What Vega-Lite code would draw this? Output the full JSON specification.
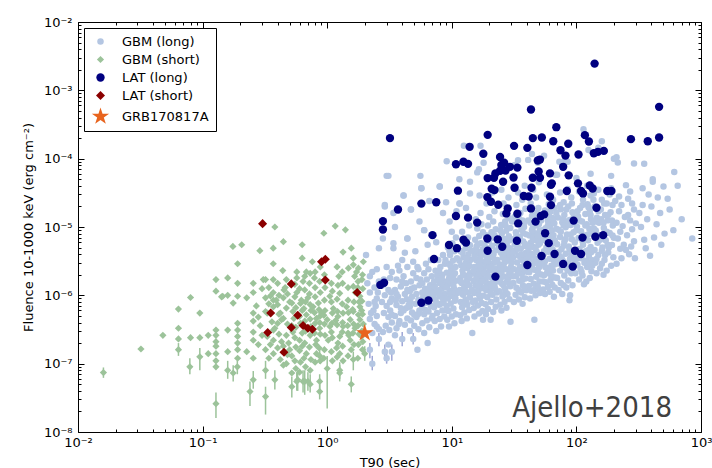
{
"$schema":"https://vega.github.io/schema/vega-lite/v6.json",
"width":623,"height":410,
"autosize":{"type":"none"},
"padding":{"left":78,"top":22,"right":11,"bottom":36},
"background":"white",
"config":{"view":{"stroke":null},
"axis":{"domainColor":"black","domainWidth":1,"tickColor":"black","tickWidth":1,"labelColor":"black","labelFont":"DejaVu Sans","labelFontSize":13,"grid":false,"labelOverlap":false,"labelFlush":false,"titleFont":"DejaVu Sans","titleFontSize":13,"titleFontWeight":"normal","titleColor":"black"},
"legend":{"strokeColor":"black","fillColor":"white","padding":7,"labelFont":"DejaVu Sans","labelFontSize":13,"labelColor":"black","labelOffset":12,"rowPadding":4,"symbolStrokeWidth":0,"cornerRadius":0,"orient":"top-left","offset":6}},
"datasets":{
"gl":[
{"x":2.1,"y":1.5e-6},{"x":2.2,"y":1.9e-6},{"x":2.3,"y":2.2e-6},{"x":2.05,"y":3.9e-6},{"x":2.6,"y":4.9e-6},{"x":2.2,"y":1.1e-6},{"x":2.4,"y":1.3e-6},{"x":2.5,"y":9e-7},{"x":2.15,"y":7.5e-7},{"x":2.35,"y":6e-7},{"x":2.5,"y":5e-7},{"x":2.2,"y":4.5e-7},{"x":2.4,"y":3.8e-7},{"x":2.6,"y":3.2e-7},{"x":2.3,"y":2.8e-7},{"x":2.2,"y":1.6e-7,"lo":1.2e-7,"hi":2e-7},{"x":2.3,"y":1e-7,"lo":8e-8,"hi":1.3e-7},{"x":2.45,"y":7e-7},{"x":2.55,"y":1.1e-6},{"x":2.6,"y":1.6e-6},{"x":2.5,"y":2.4e-6},{"x":2.4,"y":8e-7},{"x":2.25,"y":5.5e-7},{"x":2.5,"y":3.5e-7},{"x":2.6,"y":2.3e-7,"lo":1.8e-7,"hi":2.8e-7},
{"x":2.8,"y":6.8e-6},{"x":2.9,"y":2.1e-5},{"x":3.0,"y":5.6e-5},{"x":3.0,"y":2.6e-6},{"x":3.2,"y":1.8e-6},{"x":2.8,"y":1.4e-6},{"x":3.1,"y":1.2e-6},{"x":2.9,"y":1e-6},{"x":3.3,"y":9e-7},{"x":2.75,"y":8e-7},{"x":3.0,"y":7e-7},{"x":3.2,"y":6e-7},{"x":2.85,"y":5.5e-7},{"x":3.1,"y":4.8e-7},{"x":3.3,"y":4e-7},{"x":2.95,"y":3.6e-7},{"x":3.15,"y":3.1e-7},{"x":2.8,"y":2.9e-7},{"x":3.1,"y":1.9e-7},{"x":3.0,"y":1.2e-7,"lo":1e-7,"hi":1.6e-7},{"x":2.9,"y":1.5e-7,"lo":1.1e-7,"hi":1.9e-7},{"x":3.3,"y":1.5e-7,"lo":1.1e-7,"hi":1.9e-7},{"x":3.25,"y":1.1e-6},{"x":2.85,"y":1.7e-6},{"x":3.3,"y":2.2e-6},{"x":3.4,"y":5.8e-6},{"x":3.4,"y":1.6e-5},{"x":3.5,"y":1e-5},{"x":3.4,"y":4.9e-6},
{"x":3.5,"y":2.6e-7},{"x":4.0,"y":2.3e-7,"lo":1.8e-7,"hi":2.9e-7},{"x":3.6,"y":3.3e-7},{"x":3.8,"y":4.2e-7},{"x":4.2,"y":3.7e-7},{"x":3.5,"y":5e-7},{"x":3.9,"y":5.5e-7},{"x":4.3,"y":6.5e-7},{"x":3.6,"y":7.2e-7},{"x":4.0,"y":8.2e-7},{"x":3.7,"y":9.5e-7},{"x":4.2,"y":1.05e-6},{"x":3.5,"y":1.2e-6},{"x":3.9,"y":1.35e-6},{"x":4.3,"y":1.5e-6},{"x":3.6,"y":1.7e-6},{"x":4.1,"y":1.9e-6},{"x":3.8,"y":2.3e-6},{"x":4.0,"y":3.3e-6},{"x":4.4,"y":6.8e-6},{"x":4.1,"y":2.9e-5},{"x":4.7,"y":1.8e-5},{"x":3.7,"y":2.7e-6},{"x":4.4,"y":2.6e-6},{"x":4.2,"y":4.2e-6},{"x":3.55,"y":8.5e-7},{"x":4.35,"y":8.8e-7},{"x":4.1,"y":6e-7},{"x":3.75,"y":3.8e-7},{"x":4.4,"y":4.6e-7},
{"x":4.9,"y":2.3e-7,"lo":1.9e-7,"hi":2.8e-7},{"x":5.3,"y":1.6e-7},{"x":4.6,"y":3e-7},{"x":5.0,"y":3.6e-7},{"x":5.4,"y":3.2e-7},{"x":4.7,"y":4.3e-7},{"x":5.2,"y":4.8e-7},{"x":4.8,"y":5.6e-7},{"x":5.5,"y":6e-7},{"x":4.6,"y":6.8e-7},{"x":5.1,"y":7.5e-7},{"x":5.4,"y":8.6e-7},{"x":4.8,"y":9.5e-7},{"x":5.2,"y":1.05e-6},{"x":4.6,"y":1.15e-6},{"x":5.0,"y":1.3e-6},{"x":5.5,"y":1.4e-6},{"x":4.7,"y":1.6e-6},{"x":5.2,"y":1.8e-6},{"x":4.9,"y":2.1e-6},{"x":5.4,"y":2.4e-6},{"x":4.9,"y":3.1e-6},{"x":5.1,"y":4.4e-6},{"x":5.5,"y":1.2e-5},{"x":5.6,"y":5.6e-5},{"x":5.7,"y":3.7e-5},{"x":5.3,"y":2.6e-6},{"x":4.75,"y":1.25e-6},{"x":5.35,"y":5.3e-7},{"x":4.65,"y":8e-7},
{"x":6.4,"y":2e-7},{"x":6.0,"y":2.8e-7},{"x":6.6,"y":3.4e-7},{"x":5.8,"y":3.9e-7},{"x":6.3,"y":4.3e-7},{"x":6.9,"y":4.6e-7},{"x":6.0,"y":5.3e-7},{"x":6.5,"y":5.8e-7},{"x":5.8,"y":6.5e-7},{"x":6.8,"y":7e-7},{"x":6.2,"y":7.8e-7},{"x":6.6,"y":8.7e-7},{"x":5.9,"y":9.5e-7},{"x":6.4,"y":1.05e-6},{"x":6.9,"y":1.15e-6},{"x":6.1,"y":1.25e-6},{"x":6.7,"y":1.4e-6},{"x":5.8,"y":1.5e-6},{"x":6.3,"y":1.7e-6},{"x":6.9,"y":1.9e-6},{"x":6.0,"y":2.1e-6},{"x":6.5,"y":2.4e-6},{"x":6.2,"y":2.9e-6},{"x":6.8,"y":3.3e-6},{"x":6.0,"y":9e-6},{"x":6.6,"y":2.4e-5},{"x":6.4,"y":5.5e-6},{"x":7.0,"y":1.35e-6},{"x":6.15,"y":6.1e-7},{"x":6.75,"y":1e-6},
{"x":7.5,"y":3e-7},{"x":8.2,"y":3.5e-7},{"x":7.3,"y":4.2e-7},{"x":8.0,"y":4.5e-7},{"x":8.7,"y":4.9e-7},{"x":7.6,"y":5.5e-7},{"x":8.4,"y":6e-7},{"x":7.2,"y":6.7e-7},{"x":7.9,"y":7.3e-7},{"x":8.6,"y":8e-7},{"x":7.4,"y":8.8e-7},{"x":8.1,"y":9.6e-7},{"x":8.8,"y":1.05e-6},{"x":7.6,"y":1.15e-6},{"x":8.3,"y":1.25e-6},{"x":7.3,"y":1.35e-6},{"x":8.0,"y":1.5e-6},{"x":8.7,"y":1.6e-6},{"x":7.7,"y":1.8e-6},{"x":8.4,"y":2e-6},{"x":7.4,"y":2.3e-6},{"x":8.1,"y":2.6e-6},{"x":8.8,"y":2.9e-6},{"x":7.8,"y":3.3e-6},{"x":8.5,"y":3.9e-6},{"x":8.0,"y":3.9e-5},{"x":8.5,"y":1.6e-5},{"x":7.5,"y":6e-6},{"x":7.9,"y":1.05e-6},{"x":8.55,"y":1.4e-6},{"x":7.65,"y":2e-6},{"x":8.25,"y":7.6e-7},{"x":7.1,"y":1e-6},
{"x":9.1,"y":9.2e-5},{"x":10.9,"y":1.7e-5},{"x":9.0,"y":2.3e-5},{"x":9.5,"y":3.5e-7},{"x":10.5,"y":3.9e-7},{"x":9.2,"y":4.4e-7},{"x":10.0,"y":4.9e-7},{"x":10.8,"y":5.3e-7},{"x":9.4,"y":5.9e-7},{"x":10.3,"y":6.4e-7},{"x":9.1,"y":7e-7},{"x":9.8,"y":7.6e-7},{"x":10.6,"y":8.3e-7},{"x":9.3,"y":9e-7},{"x":10.1,"y":9.8e-7},{"x":10.9,"y":1.07e-6},{"x":9.6,"y":1.16e-6},{"x":10.4,"y":1.26e-6},{"x":9.2,"y":1.37e-6},{"x":10.0,"y":1.5e-6},{"x":10.8,"y":1.63e-6},{"x":9.5,"y":1.78e-6},{"x":10.3,"y":1.95e-6},{"x":9.1,"y":2.15e-6},{"x":9.9,"y":2.35e-6},{"x":10.7,"y":2.6e-6},{"x":9.4,"y":2.9e-6},{"x":10.2,"y":3.2e-6},{"x":11.0,"y":3.5e-6},{"x":9.7,"y":3.9e-6},{"x":10.5,"y":4.4e-6},{"x":9.3,"y":5e-6},{"x":10.1,"y":5.8e-6},{"x":10.8,"y":7e-6},{"x":9.8,"y":1.05e-6},{"x":10.55,"y":1.1e-6},{"x":9.65,"y":1.6e-6},{"x":10.6,"y":2.1e-6},{"x":9.75,"y":2.7e-6},{"x":10.0,"y":8.5e-6},{"x":9.6,"y":1.2e-5},
{"x":11.5,"y":5e-5},{"x":12.5,"y":1.55e-4},{"x":13,"y":1.9e-5},{"x":14,"y":4.6e-5},{"x":14,"y":3.1e-5},{"x":11.6,"y":2.2e-5},{"x":14.6,"y":2.8e-7},{"x":12.0,"y":4.2e-7},{"x":13.2,"y":4.6e-7},{"x":11.7,"y":5.1e-7},{"x":12.6,"y":5.6e-7},{"x":13.8,"y":6.1e-7},{"x":12.1,"y":6.7e-7},{"x":13.3,"y":7.3e-7},{"x":11.8,"y":8e-7},{"x":12.9,"y":8.7e-7},{"x":14.0,"y":9.4e-7},{"x":12.3,"y":1.02e-6},{"x":13.5,"y":1.1e-6},{"x":11.6,"y":1.2e-6},{"x":12.7,"y":1.3e-6},{"x":13.9,"y":1.4e-6},{"x":12.0,"y":1.52e-6},{"x":13.2,"y":1.65e-6},{"x":11.7,"y":1.8e-6},{"x":12.8,"y":1.95e-6},{"x":14.0,"y":2.1e-6},{"x":12.2,"y":2.3e-6},{"x":13.4,"y":2.5e-6},{"x":11.9,"y":2.75e-6},{"x":13.0,"y":3e-6},{"x":14.1,"y":3.3e-6},{"x":12.4,"y":3.6e-6},{"x":13.6,"y":4e-6},{"x":11.8,"y":4.4e-6},{"x":12.9,"y":4.9e-6},{"x":14.0,"y":5.4e-6},{"x":12.5,"y":6e-6},{"x":13.5,"y":7e-6},{"x":12.1,"y":8.5e-6},{"x":13.8,"y":1.05e-5},{"x":12.6,"y":1.3e-6},{"x":13.6,"y":1.75e-6},{"x":12.45,"y":2.65e-6},{"x":13.85,"y":2.7e-6},{"x":11.9,"y":1.1e-6},{"x":13.1,"y":8.1e-7},
{"x":16.5,"y":7e-5},{"x":16,"y":6.3e-5},{"x":17,"y":1.55e-4},{"x":16.7,"y":2.9e-5},{"x":17.8,"y":4.4e-7},{"x":15.2,"y":4.9e-7},{"x":16.5,"y":5.4e-7},{"x":17.6,"y":5.9e-7},{"x":15.0,"y":6.5e-7},{"x":16.2,"y":7.1e-7},{"x":17.4,"y":7.7e-7},{"x":15.5,"y":8.4e-7},{"x":16.8,"y":9.1e-7},{"x":17.9,"y":9.9e-7},{"x":15.1,"y":1.08e-6},{"x":16.3,"y":1.17e-6},{"x":17.5,"y":1.27e-6},{"x":15.6,"y":1.38e-6},{"x":16.9,"y":1.5e-6},{"x":15.0,"y":1.62e-6},{"x":16.1,"y":1.76e-6},{"x":17.3,"y":1.9e-6},{"x":15.4,"y":2.05e-6},{"x":16.6,"y":2.2e-6},{"x":17.8,"y":2.4e-6},{"x":15.2,"y":2.6e-6},{"x":16.4,"y":2.8e-6},{"x":17.6,"y":3.05e-6},{"x":15.7,"y":3.3e-6},{"x":17.0,"y":3.6e-6},{"x":15.3,"y":3.9e-6},{"x":16.5,"y":4.3e-6},{"x":17.7,"y":4.7e-6},{"x":15.8,"y":5.2e-6},{"x":17.1,"y":5.8e-6},{"x":15.4,"y":6.5e-6},{"x":16.6,"y":7.4e-6},{"x":17.8,"y":8.4e-6},{"x":16.0,"y":9.5e-6},{"x":17.3,"y":1.1e-5},{"x":15.6,"y":1.3e-5},{"x":17.0,"y":1.6e-5},{"x":15.9,"y":1.12e-6},{"x":17.1,"y":1.32e-6},{"x":16.0,"y":2.45e-6},{"x":17.2,"y":2.55e-6},{"x":15.5,"y":4.6e-6},{"x":16.9,"y":3.2e-6},{"x":16.3,"y":1.96e-6},
{"x":20.5,"y":4.4e-7},{"x":18.8,"y":5.3e-7},{"x":21.5,"y":5.7e-7},{"x":19.5,"y":6.3e-7},{"x":22.5,"y":6.8e-7},{"x":18.7,"y":7.4e-7},{"x":20.7,"y":8e-7},{"x":22.8,"y":8.7e-7},{"x":19.3,"y":9.4e-7},{"x":21.2,"y":1.02e-6},{"x":23.0,"y":1.1e-6},{"x":18.9,"y":1.19e-6},{"x":20.2,"y":1.28e-6},{"x":22.0,"y":1.38e-6},{"x":19.6,"y":1.49e-6},{"x":21.5,"y":1.6e-6},{"x":18.6,"y":1.72e-6},{"x":20.5,"y":1.85e-6},{"x":22.4,"y":2e-6},{"x":19.2,"y":2.15e-6},{"x":21.0,"y":2.3e-6},{"x":22.9,"y":2.48e-6},{"x":18.9,"y":2.67e-6},{"x":20.3,"y":2.87e-6},{"x":22.2,"y":3.1e-6},{"x":19.6,"y":3.35e-6},{"x":21.4,"y":3.6e-6},{"x":18.7,"y":3.9e-6},{"x":20.6,"y":4.2e-6},{"x":22.6,"y":4.55e-6},{"x":19.3,"y":4.9e-6},{"x":21.1,"y":5.3e-6},{"x":23.0,"y":5.8e-6},{"x":19.9,"y":6.3e-6},{"x":21.8,"y":6.9e-6},{"x":18.8,"y":7.6e-6},{"x":20.8,"y":8.4e-6},{"x":22.5,"y":9.3e-6},{"x":19.5,"y":1.05e-5},{"x":21.5,"y":1.2e-5},{"x":20.0,"y":1.4e-5},{"x":22.0,"y":1.7e-5},{"x":19.0,"y":2.2e-5},{"x":21.2,"y":3.2e-5},{"x":20.5,"y":1.1e-6},{"x":21.9,"y":1.8e-6},{"x":19.9,"y":2.55e-6},{"x":21.8,"y":3e-6},{"x":20.1,"y":3.75e-6},{"x":22.3,"y":1.25e-6},{"x":19.1,"y":1.4e-6},{"x":18,"y":8.7e-5},{"x":24,"y":1.05e-4},
{"x":29.6,"y":4.1e-7},{"x":25,"y":6e-7},{"x":27.5,"y":6.6e-7},{"x":24.5,"y":7.3e-7},{"x":26.5,"y":8e-7},{"x":29,"y":8.8e-7},{"x":25.5,"y":9.6e-7},{"x":28,"y":1.05e-6},{"x":24.2,"y":1.15e-6},{"x":26.8,"y":1.25e-6},{"x":29.5,"y":1.36e-6},{"x":25.3,"y":1.48e-6},{"x":27.8,"y":1.6e-6},{"x":24.6,"y":1.74e-6},{"x":26.2,"y":1.89e-6},{"x":28.9,"y":2.05e-6},{"x":25.1,"y":2.22e-6},{"x":27.3,"y":2.4e-6},{"x":29.8,"y":2.6e-6},{"x":24.3,"y":2.82e-6},{"x":26.6,"y":3.05e-6},{"x":28.4,"y":3.3e-6},{"x":25.6,"y":3.58e-6},{"x":27.9,"y":3.88e-6},{"x":24.8,"y":4.2e-6},{"x":26.9,"y":4.55e-6},{"x":29.2,"y":4.9e-6},{"x":25.4,"y":5.3e-6},{"x":27.6,"y":5.75e-6},{"x":24.5,"y":6.2e-6},{"x":26.3,"y":6.7e-6},{"x":28.7,"y":7.3e-6},{"x":25.2,"y":8e-6},{"x":27.4,"y":8.8e-6},{"x":29.5,"y":9.7e-6},{"x":24.9,"y":1.07e-5},{"x":26.8,"y":1.2e-5},{"x":28.6,"y":1.35e-5},{"x":25.7,"y":1.55e-5},{"x":27.9,"y":1.8e-5},{"x":26.0,"y":2.2e-5},{"x":28.5,"y":2.7e-5},{"x":25.0,"y":3.5e-5},{"x":27.0,"y":1.12e-6},{"x":28.9,"y":1.5e-6},{"x":24.1,"y":2.1e-6},{"x":26.1,"y":2.6e-6},{"x":29.0,"y":3.7e-6},{"x":26.0,"y":4.1e-6},{"x":28.0,"y":5.1e-6},{"x":25.8,"y":1e-6},{"x":29.7,"y":2.25e-6},
{"x":32,"y":8.1e-5},{"x":34,"y":9.5e-5},{"x":37,"y":7.5e-7},{"x":31.5,"y":8e-7},{"x":34.5,"y":8.7e-7},{"x":38.5,"y":9.4e-7},{"x":32.5,"y":1.02e-6},{"x":36,"y":1.1e-6},{"x":39.5,"y":1.19e-6},{"x":33,"y":1.29e-6},{"x":37.2,"y":1.4e-6},{"x":31.2,"y":1.51e-6},{"x":34.8,"y":1.63e-6},{"x":39,"y":1.76e-6},{"x":32.8,"y":1.9e-6},{"x":36.5,"y":2.05e-6},{"x":40,"y":2.22e-6},{"x":31.6,"y":2.4e-6},{"x":35.3,"y":2.6e-6},{"x":38.2,"y":2.8e-6},{"x":33.4,"y":3.03e-6},{"x":36.9,"y":3.28e-6},{"x":31.0,"y":3.55e-6},{"x":34.2,"y":3.84e-6},{"x":39.3,"y":4.15e-6},{"x":32.3,"y":4.5e-6},{"x":35.8,"y":4.86e-6},{"x":38.8,"y":5.25e-6},{"x":33.7,"y":5.7e-6},{"x":37.4,"y":6.15e-6},{"x":31.4,"y":6.65e-6},{"x":35.0,"y":7.2e-6},{"x":39.6,"y":7.8e-6},{"x":32.7,"y":8.4e-6},{"x":36.2,"y":9.1e-6},{"x":38.0,"y":1e-5},{"x":33.5,"y":1.1e-5},{"x":37.0,"y":1.25e-5},{"x":31.8,"y":1.4e-5},{"x":35.5,"y":1.6e-5},{"x":39.0,"y":1.85e-5},{"x":33.0,"y":2.1e-5},{"x":36.8,"y":2.5e-5},{"x":34.0,"y":3.2e-5},{"x":38.5,"y":4e-5},{"x":34.5,"y":1.2e-6},{"x":37.8,"y":2.4e-6},{"x":33.9,"y":2.3e-6},{"x":35.6,"y":3.6e-6},{"x":39.8,"y":3.4e-6},{"x":34.7,"y":6.2e-6},{"x":38.3,"y":1.3e-6},
{"x":46,"y":4.4e-7},{"x":41,"y":9.6e-5},{"x":44,"y":1.17e-4},{"x":49,"y":8.7e-5},{"x":42.5,"y":9e-7},{"x":47,"y":1e-6},{"x":51,"y":1.08e-6},{"x":43.5,"y":1.17e-6},{"x":48.5,"y":1.27e-6},{"x":41.5,"y":1.37e-6},{"x":45.5,"y":1.48e-6},{"x":50.5,"y":1.6e-6},{"x":43,"y":1.73e-6},{"x":47.5,"y":1.87e-6},{"x":52,"y":2.02e-6},{"x":41.8,"y":2.18e-6},{"x":46,"y":2.36e-6},{"x":50,"y":2.55e-6},{"x":44,"y":2.75e-6},{"x":48.7,"y":2.97e-6},{"x":42.2,"y":3.2e-6},{"x":46.8,"y":3.46e-6},{"x":51.2,"y":3.74e-6},{"x":43.6,"y":4.04e-6},{"x":48,"y":4.36e-6},{"x":41.3,"y":4.7e-6},{"x":45.3,"y":5.1e-6},{"x":49.6,"y":5.5e-6},{"x":43.2,"y":5.95e-6},{"x":47.3,"y":6.4e-6},{"x":51.5,"y":6.95e-6},{"x":42,"y":7.5e-6},{"x":46.5,"y":8.1e-6},{"x":50.8,"y":8.8e-6},{"x":44.5,"y":9.5e-6},{"x":48.2,"y":1.05e-5},{"x":42.8,"y":1.15e-5},{"x":47,"y":1.3e-5},{"x":51,"y":1.45e-5},{"x":44.8,"y":1.65e-5},{"x":49.5,"y":1.9e-5},{"x":43,"y":2.2e-5},{"x":47.5,"y":2.7e-5},{"x":45,"y":3.5e-5},{"x":50,"y":4.5e-5},{"x":45.8,"y":1.2e-6},{"x":49.2,"y":2.2e-6},{"x":44.6,"y":3.9e-6},{"x":50.2,"y":3.2e-6},{"x":45.2,"y":7e-6},{"x":48.9,"y":1.35e-6},{"x":55,"y":1.1e-4},
{"x":66,"y":9.5e-7},{"x":56,"y":1.05e-6},{"x":61,"y":1.13e-6},{"x":54,"y":1.22e-6},{"x":59,"y":1.32e-6},{"x":64,"y":1.43e-6},{"x":57,"y":1.55e-6},{"x":62,"y":1.68e-6},{"x":67,"y":1.82e-6},{"x":55,"y":1.97e-6},{"x":60,"y":2.13e-6},{"x":65,"y":2.3e-6},{"x":58,"y":2.49e-6},{"x":63,"y":2.7e-6},{"x":68,"y":2.92e-6},{"x":56,"y":3.16e-6},{"x":61,"y":3.42e-6},{"x":66,"y":3.7e-6},{"x":54.5,"y":4e-6},{"x":59.5,"y":4.33e-6},{"x":64.5,"y":4.69e-6},{"x":57.5,"y":5.07e-6},{"x":62.5,"y":5.5e-6},{"x":67.5,"y":5.95e-6},{"x":55.5,"y":6.45e-6},{"x":60.5,"y":7e-6},{"x":65.5,"y":7.6e-6},{"x":58.5,"y":8.2e-6},{"x":63.5,"y":8.9e-6},{"x":56.5,"y":9.6e-6},{"x":61.5,"y":1.04e-5},{"x":66.5,"y":1.13e-5},{"x":59,"y":1.23e-5},{"x":64,"y":1.35e-5},{"x":57,"y":1.5e-5},{"x":62,"y":1.68e-5},{"x":67,"y":1.9e-5},{"x":60,"y":2.15e-5},{"x":65,"y":2.5e-5},{"x":58,"y":3e-5},{"x":68,"y":5.8e-5},{"x":63,"y":1.9e-6},{"x":56.2,"y":2.6e-6},{"x":65.8,"y":3.3e-6},{"x":59.8,"y":5.9e-6},{"x":62.6,"y":1.15e-5},{"x":55,"y":8e-6},{"x":67,"y":1.3e-6},
{"x":73,"y":9e-5},{"x":81,"y":9.3e-5},{"x":85,"y":9e-5},{"x":77,"y":1.05e-6},{"x":88,"y":8.5e-7},{"x":72,"y":1.2e-6},{"x":83,"y":1.3e-6},{"x":93,"y":1.4e-6},{"x":75,"y":1.52e-6},{"x":86,"y":1.65e-6},{"x":70,"y":1.8e-6},{"x":80,"y":1.95e-6},{"x":91,"y":2.1e-6},{"x":74,"y":2.3e-6},{"x":84,"y":2.5e-6},{"x":95,"y":2.7e-6},{"x":71,"y":2.92e-6},{"x":78,"y":3.17e-6},{"x":89,"y":3.44e-6},{"x":73,"y":3.73e-6},{"x":82,"y":4.05e-6},{"x":94,"y":4.4e-6},{"x":76,"y":4.77e-6},{"x":87,"y":5.17e-6},{"x":70,"y":5.6e-6},{"x":80,"y":6.08e-6},{"x":92,"y":6.6e-6},{"x":74,"y":7.15e-6},{"x":84,"y":7.75e-6},{"x":95,"y":8.4e-6},{"x":72,"y":9.1e-6},{"x":82,"y":9.9e-6},{"x":90,"y":1.07e-5},{"x":77,"y":1.17e-5},{"x":88,"y":1.27e-5},{"x":71,"y":1.38e-5},{"x":80,"y":1.5e-5},{"x":93,"y":1.65e-5},{"x":75,"y":1.82e-5},{"x":86,"y":2e-5},{"x":79,"y":2.3e-5},{"x":91,"y":2.7e-5},{"x":74,"y":3.2e-5},{"x":85,"y":3.6e-5},{"x":89,"y":1e-6},{"x":79,"y":1.4e-6},{"x":90,"y":2.3e-6},{"x":77,"y":2.6e-6},{"x":86,"y":3e-6},{"x":79,"y":5.3e-6},{"x":91,"y":4e-6},{"x":83,"y":1.2e-5},{"x":70,"y":5.8e-5},
{"x":100,"y":5.2e-5},{"x":114,"y":2.7e-4},{"x":125,"y":1.34e-4},{"x":130,"y":6e-5},{"x":120,"y":1.6e-6},{"x":105,"y":1.7e-6},{"x":128,"y":1.8e-6},{"x":112,"y":1.95e-6},{"x":98,"y":2.1e-6},{"x":132,"y":2.25e-6},{"x":108,"y":2.42e-6},{"x":122,"y":2.6e-6},{"x":102,"y":2.8e-6},{"x":116,"y":3e-6},{"x":134,"y":3.25e-6},{"x":110,"y":3.5e-6},{"x":126,"y":3.78e-6},{"x":100,"y":4.07e-6},{"x":119,"y":4.4e-6},{"x":106,"y":4.75e-6},{"x":130,"y":5.1e-6},{"x":113,"y":5.5e-6},{"x":97,"y":5.95e-6},{"x":124,"y":6.4e-6},{"x":104,"y":6.9e-6},{"x":117,"y":7.5e-6},{"x":133,"y":8.1e-6},{"x":109,"y":8.7e-6},{"x":127,"y":9.4e-6},{"x":101,"y":1.02e-5},{"x":121,"y":1.1e-5},{"x":111,"y":1.2e-5},{"x":131,"y":1.3e-5},{"x":103,"y":1.42e-5},{"x":118,"y":1.55e-5},{"x":128,"y":1.7e-5},{"x":107,"y":1.9e-5},{"x":123,"y":2.15e-5},{"x":113,"y":2.5e-5},{"x":130,"y":2.9e-5},{"x":105,"y":3.3e-5},{"x":122,"y":4e-5},{"x":115,"y":1.45e-6},{"x":134,"y":2.7e-6},{"x":104,"y":3.5e-6},{"x":125,"y":4.6e-6},{"x":98,"y":1.3e-5},{"x":135,"y":1.15e-5},
{"x":138,"y":3.1e-5},{"x":150,"y":3.5e-5},{"x":190,"y":3.7e-5},{"x":150,"y":1.45e-4},{"x":160,"y":1.8e-4},{"x":190,"y":5.6e-5},{"x":200,"y":1e-4},{"x":160,"y":2.9e-6},{"x":145,"y":2.1e-6},{"x":175,"y":2.3e-6},{"x":155,"y":2.5e-6},{"x":190,"y":2.7e-6},{"x":142,"y":3e-6},{"x":168,"y":3.3e-6},{"x":198,"y":3.6e-6},{"x":150,"y":3.9e-6},{"x":180,"y":4.25e-6},{"x":140,"y":4.6e-6},{"x":162,"y":5e-6},{"x":193,"y":5.45e-6},{"x":148,"y":5.9e-6},{"x":172,"y":6.4e-6},{"x":200,"y":6.95e-6},{"x":155,"y":7.55e-6},{"x":185,"y":8.2e-6},{"x":143,"y":8.9e-6},{"x":166,"y":9.7e-6},{"x":196,"y":1.05e-5},{"x":152,"y":1.15e-5},{"x":178,"y":1.25e-5},{"x":146,"y":1.37e-5},{"x":170,"y":1.5e-5},{"x":188,"y":1.65e-5},{"x":157,"y":1.8e-5},{"x":140,"y":2e-5},{"x":175,"y":2.2e-5},{"x":160,"y":2.5e-5},{"x":195,"y":2.1e-5},{"x":185,"y":3e-5},{"x":165,"y":2e-6},{"x":182,"y":5e-6},{"x":147,"y":7e-6},{"x":158,"y":1.3e-5},{"x":193,"y":1.25e-5},{"x":170,"y":3.9e-6},
{"x":210,"y":2.9e-6},{"x":220,"y":2.8e-5},{"x":250,"y":4.1e-5},{"x":270,"y":3.3e-5},{"x":280,"y":2.2e-5},{"x":215,"y":8.8e-5},{"x":260,"y":1.5e-5},{"x":300,"y":1.13e-5},{"x":250,"y":4.6e-6},{"x":230,"y":3.5e-6},{"x":265,"y":4e-6},{"x":240,"y":5.5e-6},{"x":290,"y":6.2e-6},{"x":215,"y":6.8e-6},{"x":255,"y":7.6e-6},{"x":225,"y":8.5e-6},{"x":280,"y":9.3e-6},{"x":235,"y":1.03e-5},{"x":210,"y":1.15e-5},{"x":270,"y":1.25e-5},{"x":245,"y":1.4e-5},{"x":220,"y":1.7e-5},{"x":290,"y":1.8e-5},{"x":230,"y":2.1e-5},{"x":205,"y":2.4e-5},{"x":260,"y":2.6e-5},{"x":225,"y":4.8e-6},{"x":295,"y":3.5e-6},{"x":275,"y":5.2e-6},{"x":210,"y":1.05e-4},{"x":290,"y":8.5e-5},
{"x":340,"y":3.7e-5},{"x":410,"y":4.6e-5},{"x":500,"y":3.9e-5},{"x":450,"y":2.7e-5},{"x":340,"y":2.1e-5},{"x":400,"y":2e-5},{"x":370,"y":1.3e-5},{"x":510,"y":8e-6},{"x":360,"y":4.9e-6},{"x":350,"y":8.4e-5},{"x":410,"y":5e-5},{"x":330,"y":1e-5},{"x":420,"y":7e-6},{"x":380,"y":3e-5},{"x":470,"y":1.6e-5},{"x":350,"y":6.5e-6},{"x":440,"y":1.1e-5},{"x":320,"y":1.6e-5},{"x":480,"y":5.5e-6},{"x":390,"y":3.8e-6},
{"x":610,"y":6.4e-5},{"x":850,"y":6.8e-6},{"x":560,"y":1.8e-5},{"x":650,"y":4e-5},{"x":600,"y":9e-6},{"x":540,"y":2.6e-5},{"x":700,"y":1.3e-5},
{"x":3.1,"y":5.6e-5},{"x":8,"y":3.9e-5},{"x":4.1,"y":2.9e-5},{"x":5.7,"y":3.7e-5},{"x":2.9,"y":2e-5},{"x":6.0,"y":9e-6},{"x":4.7,"y":1.8e-5},{"x":4.4,"y":6.8e-6},{"x":11.5,"y":2.2e-5},
{"x":3.2,"y":8e-7},{"x":3.6,"y":1.05e-6},{"x":4.5,"y":7.2e-7},{"x":5.8,"y":1.1e-6},{"x":3.3,"y":5.2e-7},{"x":4.0,"y":1.6e-6},{"x":5.0,"y":5.2e-7},{"x":6.2,"y":8.2e-7},{"x":5.6,"y":1.7e-6},{"x":4.4,"y":1.2e-6},{"x":3.9,"y":6.5e-7},{"x":6.5,"y":1.25e-6},
{"x":7.0,"y":5e-7},{"x":7.5,"y":7.8e-7},{"x":8.0,"y":1.2e-6},{"x":8.5,"y":9e-7},{"x":9.0,"y":1.3e-6},{"x":9.5,"y":2.1e-6},{"x":7.2,"y":1.6e-6},{"x":8.3,"y":1.8e-6},{"x":9.2,"y":6e-7},{"x":9.8,"y":1.8e-6},{"x":7.9,"y":2.3e-6},{"x":8.9,"y":3.3e-6},{"x":9.6,"y":4.4e-6},{"x":10.3,"y":1.4e-6},{"x":10.7,"y":9e-7},
{"x":11.3,"y":1.1e-6},{"x":11.8,"y":1.6e-6},{"x":12.3,"y":2e-6},{"x":12.8,"y":1.15e-6},{"x":13.3,"y":1.45e-6},{"x":13.9,"y":1.9e-6},{"x":14.5,"y":1.2e-6},{"x":15.0,"y":2.3e-6},{"x":15.6,"y":1.7e-6},{"x":16.2,"y":1.4e-6},{"x":16.8,"y":2.7e-6},{"x":17.5,"y":1.6e-6},{"x":18.2,"y":2.1e-6},{"x":18.9,"y":3.2e-6},{"x":19.6,"y":1.9e-6},{"x":11.5,"y":3.2e-6},{"x":12.2,"y":4.2e-6},{"x":13.1,"y":3.5e-6},{"x":14.3,"y":4.5e-6},{"x":15.2,"y":3.6e-6},{"x":16.1,"y":5.5e-6},{"x":17.3,"y":4.2e-6},{"x":18.3,"y":5.5e-6},{"x":19.2,"y":4.3e-6},{"x":14.8,"y":8e-7},{"x":16.6,"y":1e-6},{"x":18.5,"y":1.3e-6},{"x":12.5,"y":7.5e-7},
{"x":20.8,"y":2.6e-6},{"x":21.6,"y":4e-6},{"x":22.3,"y":2.2e-6},{"x":23.2,"y":3.3e-6},{"x":24.0,"y":5e-6},{"x":24.8,"y":2.5e-6},{"x":25.7,"y":3.9e-6},{"x":26.5,"y":5.8e-6},{"x":27.4,"y":3.2e-6},{"x":28.2,"y":4.5e-6},{"x":29.1,"y":6.4e-6},{"x":30.0,"y":3e-6},{"x":31.0,"y":4.2e-6},{"x":32.0,"y":5.5e-6},{"x":33.0,"y":7.5e-6},{"x":34.0,"y":4.8e-6},{"x":35.2,"y":6.8e-6},{"x":36.3,"y":4e-6},{"x":37.5,"y":8.2e-6},{"x":38.6,"y":5.7e-6},{"x":39.7,"y":3.7e-6},{"x":22.0,"y":7.6e-6},{"x":24.5,"y":9e-6},{"x":27,"y":1.05e-5},{"x":30.5,"y":1.2e-5},{"x":34.5,"y":1.35e-5},{"x":38,"y":1.15e-5},{"x":21,"y":1.4e-6},{"x":23.8,"y":1.6e-6},{"x":26,"y":1.4e-6},{"x":28.5,"y":1.8e-6},{"x":31,"y":1.9e-6},{"x":34,"y":2.1e-6},{"x":37,"y":1.7e-6},
{"x":41,"y":3.8e-6},{"x":43,"y":5.2e-6},{"x":45,"y":6.7e-6},{"x":47,"y":4.8e-6},{"x":49,"y":7.5e-6},{"x":51,"y":5.8e-6},{"x":53,"y":9e-6},{"x":55,"y":4.4e-6},{"x":57,"y":6.8e-6},{"x":59,"y":1.05e-5},{"x":61,"y":5.2e-6},{"x":63,"y":7.6e-6},{"x":65,"y":1.25e-5},{"x":67,"y":6.4e-6},{"x":69,"y":9.4e-6},{"x":72,"y":4.3e-6},{"x":75,"y":8.5e-6},{"x":78,"y":1.3e-5},{"x":41,"y":1.25e-5},{"x":44,"y":1.45e-5},{"x":48,"y":1.6e-5},{"x":52,"y":1.25e-5},{"x":56,"y":1.75e-5},{"x":60,"y":1.5e-5},{"x":64,"y":2e-5},{"x":69,"y":1.6e-5},{"x":74,"y":2.1e-5},{"x":79,"y":1.05e-5},{"x":43,"y":2.4e-6},{"x":46,"y":3e-6},{"x":52,"y":2.9e-6},{"x":54,"y":1.6e-6},{"x":58,"y":2.1e-6},{"x":62,"y":2.5e-6},{"x":66,"y":2.8e-6},{"x":70,"y":3.3e-6},{"x":76,"y":3.6e-6},{"x":44,"y":9e-6},{"x":50,"y":1.1e-5},
{"x":82,"y":6.7e-6},{"x":86,"y":1.1e-5},{"x":90,"y":7.8e-6},{"x":95,"y":1.4e-5},{"x":100,"y":9e-6},{"x":106,"y":1.25e-5},{"x":112,"y":6.2e-6},{"x":118,"y":1.05e-5},{"x":124,"y":7.8e-6},{"x":130,"y":1.5e-5},{"x":138,"y":9.5e-6},{"x":145,"y":1.2e-5},{"x":155,"y":6.5e-6},{"x":165,"y":1.15e-5},{"x":175,"y":8.5e-6},{"x":83,"y":1.8e-5},{"x":92,"y":2.2e-5},{"x":102,"y":1.7e-5},{"x":112,"y":2.1e-5},{"x":125,"y":1.95e-5},{"x":137,"y":2.5e-5},{"x":150,"y":1.7e-5},{"x":167,"y":2.2e-5},{"x":180,"y":1.5e-5},{"x":88,"y":4.7e-6},{"x":96,"y":3.4e-6},{"x":108,"y":4.2e-6},{"x":120,"y":3.2e-6},{"x":132,"y":4.3e-6},{"x":145,"y":3.4e-6},{"x":160,"y":4.5e-6},{"x":178,"y":5.5e-6},{"x":195,"y":7.5e-6},{"x":85,"y":2.3e-6},{"x":98,"y":2.9e-6},{"x":110,"y":2.2e-6},{"x":128,"y":2.9e-6}
],
"gs":[
{"x":0.016,"y":7.4e-8,"lo":6.2e-8,"hi":8.8e-8},{"x":0.032,"y":1.64e-7},{"x":0.048,"y":2.6e-7},{"x":0.064,"y":6.3e-7},{"x":0.064,"y":3.3e-7},{"x":0.064,"y":2.3e-7},{"x":0.064,"y":1.6e-7,"lo":1.3e-7,"hi":2e-7},{"x":0.08,"y":9.3e-7},{"x":0.08,"y":2.4e-7},{"x":0.079,"y":9e-8,"lo":7e-8,"hi":1.2e-7},{"x":0.095,"y":5.5e-7},{"x":0.095,"y":2.4e-7},{"x":0.095,"y":1.26e-7,"lo":8e-8,"hi":1.7e-7},{"x":0.111,"y":2.6e-7},{"x":0.111,"y":1.4e-7},{"x":0.128,"y":1.7e-6},{"x":0.128,"y":1.15e-6},{"x":0.128,"y":3.1e-7},{"x":0.128,"y":2.6e-7},{"x":0.128,"y":2.1e-7},{"x":0.128,"y":1.8e-7},{"x":0.128,"y":1.4e-7},{"x":0.128,"y":1.1e-7},{"x":0.128,"y":9e-8},{"x":0.128,"y":2.6e-8,"lo":1.6e-8,"hi":3.8e-8},{"x":0.145,"y":9.7e-7},{"x":0.159,"y":1.8e-6},{"x":0.159,"y":3.1e-7},{"x":0.159,"y":1.5e-7},{"x":0.159,"y":8e-8,"lo":6e-8,"hi":1.1e-7},{"x":0.175,"y":5.2e-6},{"x":0.176,"y":7.7e-7},{"x":0.176,"y":7.3e-8,"lo":5.5e-8,"hi":9.5e-8},{"x":0.191,"y":2.9e-6},{"x":0.191,"y":1.5e-6},{"x":0.191,"y":9.7e-7},{"x":0.191,"y":3.9e-7},{"x":0.191,"y":3.1e-7},{"x":0.191,"y":2.5e-7},{"x":0.191,"y":2e-7},{"x":0.191,"y":1.6e-7},{"x":0.191,"y":1.2e-7},{"x":0.19,"y":9e-8,"lo":7e-8,"hi":1.1e-7},{"x":0.206,"y":5.5e-6},{"x":0.226,"y":9.2e-7},{"x":0.226,"y":1.5e-7},{"x":0.255,"y":1.5e-6},{"x":0.255,"y":1.1e-6},{"x":0.255,"y":5.5e-7},{"x":0.255,"y":4.2e-7},{"x":0.255,"y":2.9e-7},{"x":0.255,"y":2.2e-7},{"x":0.255,"y":1.2e-7},{"x":0.255,"y":5.8e-8,"lo":4.3e-8,"hi":7.8e-8},{"x":0.24,"y":3.9e-8,"lo":2.4e-8,"hi":5.5e-8},{"x":0.288,"y":4.5e-6},{"x":0.307,"y":1.7e-6},{"x":0.32,"y":9.2e-7},{"x":0.32,"y":5.8e-7},{"x":0.32,"y":1.6e-7},{"x":0.32,"y":8e-8,"lo":6e-8,"hi":1.1e-7},{"x":0.32,"y":3.3e-8,"lo":1.8e-8,"hi":4.6e-8},{"x":0.369,"y":4.9e-6},{"x":0.369,"y":2.9e-6},{"x":0.369,"y":1.7e-6},{"x":0.369,"y":1.1e-6},{"x":0.37,"y":8.5e-7},{"x":0.37,"y":6.8e-7},{"x":0.37,"y":3.1e-7},{"x":0.37,"y":2.2e-7},{"x":0.37,"y":1.4e-7},{"x":0.38,"y":5.8e-8,"lo":4.2e-8,"hi":8e-8},{"x":0.445,"y":6.1e-6},{"x":0.445,"y":9.2e-7},{"x":0.445,"y":4.6e-7},{"x":0.445,"y":1.8e-7},{"x":0.445,"y":9.5e-8},{"x":0.45,"y":1.2e-6},{"x":0.52,"y":7.7e-7},{"x":0.52,"y":3.6e-7},{"x":0.52,"y":1.3e-7},{"x":0.52,"y":7.3e-8},{"x":0.52,"y":4.6e-8,"lo":3.2e-8,"hi":6.5e-8},{"x":0.57,"y":1.8e-6},{"x":0.57,"y":1.1e-6},{"x":0.58,"y":5.8e-8,"lo":4e-8,"hi":8e-8},{"x":0.63,"y":5.5e-6},{"x":0.63,"y":3.5e-6},{"x":0.63,"y":6e-7},{"x":0.63,"y":2.8e-7},{"x":0.63,"y":1.8e-7},{"x":0.64,"y":5.5e-8,"lo":3.8e-8,"hi":8e-8},{"x":0.68,"y":2.2e-6},{"x":0.7,"y":9.2e-7},{"x":0.7,"y":5.5e-8,"lo":4e-8,"hi":7.5e-8},{"x":0.76,"y":3.1e-6},{"x":0.77,"y":6.8e-7},{"x":0.82,"y":2.2e-7},{"x":0.82,"y":1.4e-7},{"x":0.87,"y":5.5e-8,"lo":3.8e-8,"hi":7e-8},{"x":0.87,"y":3.9e-8,"lo":3e-8,"hi":5e-8},{"x":0.94,"y":8.1e-6},{"x":0.96,"y":1.3e-6},{"x":1.0,"y":8.5e-8,"lo":2.2e-8,"hi":1.3e-7},{"x":1.05,"y":3.5e-7},{"x":1.16,"y":1.03e-5},{"x":1.17,"y":4.3e-7},{"x":1.19,"y":1.7e-7},{"x":1.24,"y":1.9e-6},{"x":1.26,"y":7.3e-8,"lo":5.5e-8,"hi":9.5e-8},{"x":1.34,"y":4.3e-6},{"x":1.4,"y":9.1e-6},{"x":1.43,"y":6.8e-7},{"x":1.47,"y":2.8e-7},{"x":1.56,"y":4.9e-6},{"x":1.56,"y":5e-8,"lo":3.8e-8,"hi":6.5e-8},{"x":1.62,"y":3.5e-6},{"x":1.66,"y":1.9e-6},{"x":1.68,"y":1.1e-6},{"x":1.83,"y":6.8e-7},{"x":1.9,"y":1.7e-6},{"x":2.0,"y":1.4e-7,"lo":1.1e-7,"hi":1.8e-7},{"x":1.95,"y":3.1e-6},
{"x":0.38,"y":1e-5},{"x":0.44,"y":2.3e-6},{"x":0.57,"y":2.2e-6},{"x":0.73,"y":2.1e-6},{"x":0.8,"y":2.2e-6},{"x":1.72,"y":2.2e-6},{"x":0.32,"y":1.7e-6},{"x":0.64,"y":1.6e-6},{"x":0.8,"y":1.3e-6},{"x":1.77,"y":1.6e-6},{"x":0.46,"y":1.3e-6},{"x":1.05,"y":9.7e-7},{"x":1.26,"y":1.07e-6},{"x":1.47,"y":8.5e-7},{"x":1.83,"y":9.7e-7},{"x":0.39,"y":8.5e-7},{"x":0.5,"y":8e-7},{"x":0.62,"y":8.5e-7},{"x":0.73,"y":7.3e-7},{"x":0.85,"y":7.7e-7},{"x":0.9,"y":5.5e-7},{"x":1.12,"y":6.4e-7},{"x":1.62,"y":5.8e-7},{"x":1.89,"y":6e-7},{"x":0.33,"y":5.5e-7},{"x":0.42,"y":5.5e-7},{"x":0.53,"y":5.8e-7},{"x":0.68,"y":5.2e-7},{"x":0.43,"y":4.4e-7},{"x":0.82,"y":4.6e-7},{"x":1.0,"y":4.4e-7},{"x":1.22,"y":4.9e-7},{"x":1.53,"y":4.4e-7},{"x":1.83,"y":4.4e-7},{"x":0.38,"y":3.3e-7},{"x":0.53,"y":2.9e-7},{"x":0.87,"y":3.3e-7},{"x":1.08,"y":2.9e-7},{"x":1.34,"y":3.5e-7},{"x":1.67,"y":3.3e-7},{"x":0.33,"y":2.5e-7},{"x":0.43,"y":2.1e-7},{"x":0.6,"y":2.2e-7},{"x":0.73,"y":2.6e-7},{"x":1.02,"y":2.2e-7},{"x":1.26,"y":2.5e-7},{"x":1.53,"y":2.2e-7},{"x":1.89,"y":2.5e-7},{"x":0.5,"y":1.6e-7},{"x":0.68,"y":1.4e-7},{"x":0.87,"y":1.3e-7,"lo":1e-7,"hi":1.7e-7},{"x":1.26,"y":1.4e-7},{"x":1.56,"y":1.6e-7},{"x":0.57,"y":5.5e-8,"lo":4e-8,"hi":7.5e-8},{"x":0.66,"y":5.5e-8,"lo":3.5e-8,"hi":8e-8},{"x":0.73,"y":5e-8,"lo":3.8e-8,"hi":7e-8},{"x":1.26,"y":8e-8,"lo":6e-8,"hi":1.05e-7},{"x":0.142,"y":9.5e-7},{"x":0.159,"y":1e-6},
{"x":0.27,"y":7e-7},{"x":0.28,"y":4.8e-7},{"x":0.29,"y":3.6e-7},{"x":0.3,"y":2.6e-7},{"x":0.28,"y":1.9e-7},{"x":0.3,"y":1.25e-6},{"x":0.34,"y":1.3e-6},{"x":0.35,"y":9.8e-7},{"x":0.34,"y":7.5e-7},{"x":0.36,"y":4.1e-7},{"x":0.35,"y":1.9e-7},{"x":0.34,"y":1.2e-7},{"x":0.4,"y":1.5e-6},{"x":0.41,"y":1e-6},{"x":0.4,"y":7.3e-7},{"x":0.41,"y":5.3e-7},{"x":0.4,"y":3.9e-7},{"x":0.41,"y":2.7e-7},{"x":0.4,"y":1.7e-7},{"x":0.42,"y":1.15e-7},{"x":0.47,"y":1.7e-6},{"x":0.48,"y":1.05e-6},{"x":0.47,"y":6.5e-7},{"x":0.48,"y":3.8e-7},{"x":0.47,"y":2.6e-7},{"x":0.49,"y":2e-7},{"x":0.48,"y":1.35e-7},{"x":0.47,"y":1e-7},{"x":0.55,"y":1.45e-6},{"x":0.55,"y":9.5e-7},{"x":0.56,"y":6.6e-7},{"x":0.54,"y":4.6e-7},{"x":0.56,"y":3.4e-7},{"x":0.55,"y":2.4e-7},{"x":0.56,"y":1.75e-7},{"x":0.55,"y":1.1e-7},{"x":0.56,"y":8.5e-8},{"x":0.6,"y":1.25e-6},{"x":0.61,"y":7.6e-7},{"x":0.6,"y":4.9e-7},{"x":0.61,"y":3.9e-7},{"x":0.6,"y":1.55e-7},{"x":0.61,"y":1.05e-7},{"x":0.6,"y":7.5e-8},{"x":0.66,"y":1.9e-6},{"x":0.66,"y":1.2e-6},{"x":0.67,"y":8e-7},{"x":0.65,"y":6.4e-7},{"x":0.66,"y":4.2e-7},{"x":0.67,"y":3e-7},{"x":0.66,"y":2e-7},{"x":0.65,"y":1.2e-7},{"x":0.67,"y":9e-8},{"x":0.72,"y":1.5e-6},{"x":0.72,"y":1.05e-6},{"x":0.74,"y":6e-7},{"x":0.73,"y":4.5e-7},{"x":0.74,"y":3.5e-7},{"x":0.72,"y":1.75e-7},{"x":0.74,"y":1.15e-7},{"x":0.73,"y":8e-8},{"x":0.79,"y":1.8e-6},{"x":0.8,"y":9.5e-7},{"x":0.79,"y":5.6e-7},{"x":0.8,"y":3.9e-7},{"x":0.79,"y":2.8e-7},{"x":0.81,"y":1.9e-7},{"x":0.8,"y":1.05e-7},{"x":0.88,"y":2.6e-6},{"x":0.87,"y":1.6e-6},{"x":0.88,"y":1.1e-6},{"x":0.86,"y":6.2e-7},{"x":0.88,"y":5e-7},{"x":0.87,"y":4e-7},{"x":0.88,"y":2.7e-7},{"x":0.86,"y":1.7e-7},{"x":0.88,"y":1.1e-7},{"x":0.95,"y":2e-6},{"x":0.95,"y":8.5e-7},{"x":0.96,"y":6e-7},{"x":0.94,"y":5.1e-7},{"x":0.95,"y":3.8e-7},{"x":0.96,"y":2.6e-7},{"x":0.95,"y":1.6e-7},{"x":0.94,"y":1.2e-7},{"x":1.08,"y":1.5e-6},{"x":1.1,"y":1.15e-6},{"x":1.08,"y":8e-7},{"x":1.1,"y":5.5e-7},{"x":1.09,"y":3.9e-7},{"x":1.1,"y":2.4e-7},{"x":1.08,"y":1.5e-7},{"x":1.1,"y":1.1e-7},{"x":1.2,"y":2.6e-6},{"x":1.22,"y":1.4e-6},{"x":1.2,"y":8.8e-7},{"x":1.21,"y":5.8e-7},{"x":1.2,"y":3.7e-7},{"x":1.22,"y":2e-7},{"x":1.2,"y":1.25e-7},{"x":1.32,"y":2.2e-6},{"x":1.33,"y":1.5e-6},{"x":1.32,"y":7.5e-7},{"x":1.34,"y":5.5e-7},{"x":1.33,"y":4e-7},{"x":1.32,"y":2.9e-7},{"x":1.33,"y":1.8e-7},{"x":1.34,"y":1.1e-7},{"x":1.48,"y":2.5e-6},{"x":1.47,"y":1.3e-6},{"x":1.48,"y":5.6e-7},{"x":1.46,"y":3.6e-7},{"x":1.49,"y":2.6e-7},{"x":1.47,"y":1.3e-7},{"x":1.62,"y":2.8e-6},{"x":1.62,"y":1.35e-6},{"x":1.64,"y":8e-7},{"x":1.6,"y":6.2e-7},{"x":1.63,"y":3.8e-7},{"x":1.61,"y":2.8e-7},{"x":1.64,"y":1.9e-7},{"x":1.62,"y":1.15e-7,"lo":8e-8,"hi":1.5e-7},{"x":1.78,"y":2.5e-6},{"x":1.76,"y":1.3e-6},{"x":1.8,"y":8e-7},{"x":1.78,"y":5.2e-7},{"x":1.77,"y":3.6e-7},{"x":1.8,"y":2.7e-7},{"x":1.78,"y":1.9e-7},{"x":1.76,"y":1.2e-7},{"x":1.92,"y":2e-6},{"x":1.93,"y":1.25e-6},{"x":1.9,"y":8.2e-7},{"x":1.92,"y":5.3e-7},{"x":1.95,"y":3.8e-7},{"x":1.9,"y":3e-7},{"x":1.93,"y":2.1e-7},{"x":1.92,"y":1.6e-7}
],
"ll":[
{"x":140,"y":2.46e-3},{"x":43.2,"y":5.24e-4},{"x":461,"y":5.73e-4},{"x":3.19,"y":2e-4},{"x":19.4,"y":2.23e-4},{"x":274,"y":1.93e-4},{"x":374,"y":1.8e-4},{"x":461,"y":2.04e-4},{"x":69,"y":2.89e-4},{"x":44.7,"y":2e-4},{"x":52.8,"y":2.04e-4},{"x":65.2,"y":1.8e-4},{"x":117,"y":2.21e-4},{"x":126,"y":1.78e-4},{"x":86,"y":1.65e-4},{"x":13.9,"y":1.49e-4},{"x":31.6,"y":1.54e-4},{"x":40.4,"y":1.44e-4},{"x":17.9,"y":1.18e-4},{"x":74.5,"y":1.33e-4},{"x":81.7,"y":1.11e-4},{"x":104,"y":1.15e-4},{"x":138,"y":1.2e-4},{"x":149,"y":1.26e-4},{"x":166,"y":1.3e-4},{"x":24.4,"y":1.06e-4},{"x":51,"y":9.7e-5},{"x":49,"y":9.4e-5},{"x":10.8,"y":8.3e-5},{"x":12.4,"y":9e-5},{"x":13.5,"y":8.4e-5},{"x":25,"y":8.1e-5},{"x":26.3,"y":8.7e-5},{"x":29.3,"y":7.6e-5},{"x":33.6,"y":7.4e-5},{"x":24.4,"y":6.65e-5},{"x":22.4,"y":6.1e-5},{"x":27,"y":6.7e-5},{"x":31.3,"y":5.3e-5},{"x":19.4,"y":5.2e-5},{"x":21.8,"y":5.25e-5},{"x":25.8,"y":4.6e-5},{"x":49.8,"y":6.5e-5},{"x":51,"y":5.25e-5},{"x":44.7,"y":5.25e-5},{"x":61.4,"y":6.1e-5},{"x":63.5,"y":4.35e-5},{"x":78.3,"y":7.6e-5},{"x":86.7,"y":5.7e-5},{"x":103,"y":4.35e-5},{"x":128,"y":4.05e-5},{"x":135,"y":3.66e-5},{"x":177,"y":3.36e-5},{"x":191,"y":3.36e-5},{"x":109,"y":3.36e-5},{"x":113,"y":3.1e-5},{"x":83.8,"y":3.36e-5},{"x":62.5,"y":4.15e-5},{"x":43.6,"y":3.75e-5},{"x":37.8,"y":2.84e-5},{"x":31.9,"y":3.75e-5},{"x":20.9,"y":3.63e-5},{"x":22,"y":3.47e-5},{"x":19.3,"y":2.74e-5},{"x":20.6,"y":2.34e-5},{"x":23.6,"y":2.12e-5},{"x":28.1,"y":1.87e-5},{"x":27.4,"y":1.58e-5},{"x":33.6,"y":1.56e-5},{"x":34.1,"y":1.13e-5},{"x":43.2,"y":1.87e-5},{"x":51.9,"y":1.45e-5},{"x":55.1,"y":1.53e-5},{"x":47,"y":1.2e-5},{"x":62.5,"y":2.09e-5},{"x":145,"y":1.91e-5},{"x":142,"y":7.2e-6},{"x":164,"y":7.6e-6},{"x":95,"y":1.24e-5},{"x":112,"y":7e-6},{"x":56.1,"y":8.1e-6},{"x":60,"y":5.8e-6},{"x":52.5,"y":3.77e-6},{"x":66.8,"y":4.03e-6},{"x":97.5,"y":4.5e-6},{"x":109,"y":4.03e-6},{"x":78.3,"y":2.88e-6},{"x":93.5,"y":2.63e-6},{"x":40.4,"y":2.78e-6},{"x":22.4,"y":1.88e-6},{"x":33.3,"y":6.3e-6},{"x":23.4,"y":6.6e-6},{"x":25.4,"y":5.15e-6},{"x":19.3,"y":6.8e-6},{"x":19.4,"y":4.5e-6},{"x":16,"y":1.16e-5},{"x":13.5,"y":1.37e-5},{"x":10.8,"y":1.45e-5},{"x":12.4,"y":6.5e-6},{"x":13,"y":5.9e-6},{"x":9.5,"y":5.45e-6},{"x":11,"y":4.9e-6},{"x":11.2,"y":3.4e-5},{"x":7.5,"y":2.3e-5},{"x":5.7,"y":2.2e-5},{"x":3.7,"y":1.8e-5},{"x":2.8,"y":1.22e-5},{"x":2.8,"y":9.2e-6},{"x":7,"y":7.6e-6},{"x":7.2,"y":3.4e-6},{"x":2.67,"y":1.42e-6},{"x":2.86,"y":1.53e-6},{"x":5.7,"y":7.8e-7},{"x":6.5,"y":8.4e-7},{"x":61.4,"y":2.77e-5},{"x":41.4,"y":2.8e-5}
],
"ls":[
{"x":0.303,"y":1.12e-5},{"x":0.9,"y":3.11e-6},{"x":0.966,"y":3.37e-6},{"x":0.966,"y":1.68e-6},{"x":0.515,"y":1.47e-6},{"x":1.74,"y":1.1e-6},{"x":0.352,"y":5.5e-7},{"x":0.58,"y":5.1e-7},{"x":0.333,"y":2.85e-7},{"x":0.515,"y":3.38e-7},{"x":0.64,"y":3.61e-7},{"x":0.7,"y":3.3e-7},{"x":0.76,"y":3.19e-7},{"x":0.45,"y":1.47e-7}
],
"grb":[{"x":2.0,"y":2.8e-7}],
"ann":[{"x":585,"y":1.66e-8,"label":"Ajello+2018"}]
},
"resolve":{"axis":{"x":"independent","y":"independent"}},
"layer":[
{"data":{"name":"gl"},"transform":[{"filter":"isValid(datum.lo)"}],
"mark":{"type":"rule","color":"#9ea6d6","strokeWidth":1.5},
"encoding":{
"x":{"field":"x","type":"quantitative","scale":{"type":"log","domain":[0.01,1000],"nice":false},
"axis":{"orient":"top","labels":false,"title":null,"values":[0.01,0.02,0.03,0.04,0.05,0.06,0.07,0.08,0.09,0.1,0.2,0.3,0.4,0.5,0.6,0.7,0.8,0.9,1,2,3,4,5,6,7,8,9,10,20,30,40,50,60,70,80,90,100,200,300,400,500,600,700,800,900,1000],"tickSize":{"condition":{"test":"indexof([0.01,0.1,1,10,100,1000], datum.value) >= 0","value":-6},"value":-3}}},
"y":{"field":"lo","type":"quantitative","scale":{"type":"log","domain":[1e-8,0.01],"nice":false},
"axis":{"orient":"right","labels":false,"title":null,"values":[1e-8,2e-8,3e-8,4e-8,5e-8,6e-8,7e-8,8e-8,9e-8,1e-7,2e-7,3e-7,4e-7,5e-7,6e-7,7e-7,8e-7,9e-7,1e-6,2e-6,3e-6,4e-6,5e-6,6e-6,7e-6,8e-6,9e-6,1e-5,2e-5,3e-5,4e-5,5e-5,6e-5,7e-5,8e-5,9e-5,1e-4,2e-4,3e-4,4e-4,5e-4,6e-4,7e-4,8e-4,9e-4,0.001,0.002,0.003,0.004,0.005,0.006,0.007,0.008,0.009,0.01],"tickSize":{"condition":{"test":"indexof([1e-8,1e-7,1e-6,1e-5,1e-4,0.001,0.01], datum.value) >= 0","value":-6},"value":-3}}},
"y2":{"field":"hi"}}},
{"data":{"name":"gl"},
"mark":{"type":"point","filled":true,"opacity":1,"strokeWidth":0},
"encoding":{
"x":{"field":"x","type":"quantitative","title":"T90 (sec)","scale":{"type":"log","domain":[0.01,1000],"nice":false},
"axis":{"orient":"bottom","values":[0.01,0.02,0.03,0.04,0.05,0.06,0.07,0.08,0.09,0.1,0.2,0.3,0.4,0.5,0.6,0.7,0.8,0.9,1,2,3,4,5,6,7,8,9,10,20,30,40,50,60,70,80,90,100,200,300,400,500,600,700,800,900,1000],"tickSize":{"condition":{"test":"indexof([0.01,0.1,1,10,100,1000], datum.value) >= 0","value":-6},"value":-3},"labelPadding":10,"titlePadding":4,
"labelExpr":"datum.value==0.01?'10⁻²':datum.value==0.1?'10⁻¹':datum.value==1?'10⁰':datum.value==10?'10¹':datum.value==100?'10²':datum.value==1000?'10³':''"}},
"y":{"field":"y","type":"quantitative","title":"Fluence 10-1000 keV (erg cm⁻²)","scale":{"type":"log","domain":[1e-8,0.01],"nice":false},
"axis":{"orient":"left","values":[1e-8,2e-8,3e-8,4e-8,5e-8,6e-8,7e-8,8e-8,9e-8,1e-7,2e-7,3e-7,4e-7,5e-7,6e-7,7e-7,8e-7,9e-7,1e-6,2e-6,3e-6,4e-6,5e-6,6e-6,7e-6,8e-6,9e-6,1e-5,2e-5,3e-5,4e-5,5e-5,6e-5,7e-5,8e-5,9e-5,1e-4,2e-4,3e-4,4e-4,5e-4,6e-4,7e-4,8e-4,9e-4,0.001,0.002,0.003,0.004,0.005,0.006,0.007,0.008,0.009,0.01],"tickSize":{"condition":{"test":"indexof([1e-8,1e-7,1e-6,1e-5,1e-4,0.001,0.01], datum.value) >= 0","value":-6},"value":-3},"labelPadding":12,"titlePadding":8,
"labelExpr":"datum.value==1e-8?'10⁻⁸':datum.value==1e-7?'10⁻⁷':datum.value==1e-6?'10⁻⁶':datum.value==1e-5?'10⁻⁵':datum.value==1e-4?'10⁻⁴':datum.value==0.001?'10⁻³':datum.value==0.01?'10⁻²':''"}},
"color":{"datum":"GBM (long)","type":"nominal","scale":{"domain":["GBM (long)","GBM (short)","LAT (long)","LAT (short)","GRB170817A"],"range":["#b4c6e2","#9cc39a","#000080","#8b0000","#e8641e"]},"legend":{"title":null}},
"shape":{"datum":"GBM (long)","type":"nominal","scale":{"domain":["GBM (long)","GBM (short)","LAT (long)","LAT (short)","GRB170817A"],"range":["circle","diamond","circle","diamond","M0,-1L0.225,-0.309L0.951,-0.309L0.363,0.118L0.588,0.809L0,0.382L-0.588,0.809L-0.363,0.118L-0.951,-0.309L-0.225,-0.309Z"]},"legend":{"title":null}},
"size":{"datum":"GBM (long)","type":"nominal","scale":{"type":"ordinal","domain":["GBM (long)","GBM (short)","LAT (long)","LAT (short)","GRB170817A"],"range":[42,52,70,82,330]},"legend":{"title":null}}}},
{"data":{"name":"gs"},"transform":[{"filter":"isValid(datum.lo)"}],
"mark":{"type":"rule","color":"#9cc39a","strokeWidth":1.5},
"encoding":{"x":{"field":"x","type":"quantitative","axis":null},"y":{"field":"lo","type":"quantitative","axis":null},"y2":{"field":"hi"}}},
{"data":{"name":"gs"},
"mark":{"type":"point","filled":true,"opacity":1,"strokeWidth":0},
"encoding":{"x":{"field":"x","type":"quantitative","axis":null},"y":{"field":"y","type":"quantitative","axis":null},
"color":{"datum":"GBM (short)","type":"nominal","scale":{"domain":["GBM (long)","GBM (short)","LAT (long)","LAT (short)","GRB170817A"],"range":["#b4c6e2","#9cc39a","#000080","#8b0000","#e8641e"]},"legend":{"title":null}},
"shape":{"datum":"GBM (short)","type":"nominal","scale":{"domain":["GBM (long)","GBM (short)","LAT (long)","LAT (short)","GRB170817A"],"range":["circle","diamond","circle","diamond","M0,-1L0.225,-0.309L0.951,-0.309L0.363,0.118L0.588,0.809L0,0.382L-0.588,0.809L-0.363,0.118L-0.951,-0.309L-0.225,-0.309Z"]},"legend":{"title":null}},
"size":{"datum":"GBM (short)","type":"nominal","scale":{"type":"ordinal","domain":["GBM (long)","GBM (short)","LAT (long)","LAT (short)","GRB170817A"],"range":[42,52,70,82,330]},"legend":{"title":null}}}},
{"data":{"name":"ll"},
"mark":{"type":"point","filled":true,"opacity":1,"strokeWidth":0},
"encoding":{"x":{"field":"x","type":"quantitative","axis":null},"y":{"field":"y","type":"quantitative","axis":null},
"color":{"datum":"LAT (long)","type":"nominal","scale":{"domain":["GBM (long)","GBM (short)","LAT (long)","LAT (short)","GRB170817A"],"range":["#b4c6e2","#9cc39a","#000080","#8b0000","#e8641e"]},"legend":{"title":null}},
"shape":{"datum":"LAT (long)","type":"nominal","scale":{"domain":["GBM (long)","GBM (short)","LAT (long)","LAT (short)","GRB170817A"],"range":["circle","diamond","circle","diamond","M0,-1L0.225,-0.309L0.951,-0.309L0.363,0.118L0.588,0.809L0,0.382L-0.588,0.809L-0.363,0.118L-0.951,-0.309L-0.225,-0.309Z"]},"legend":{"title":null}},
"size":{"datum":"LAT (long)","type":"nominal","scale":{"type":"ordinal","domain":["GBM (long)","GBM (short)","LAT (long)","LAT (short)","GRB170817A"],"range":[42,52,70,82,330]},"legend":{"title":null}}}},
{"data":{"name":"ls"},
"mark":{"type":"point","filled":true,"opacity":1,"strokeWidth":0},
"encoding":{"x":{"field":"x","type":"quantitative","axis":null},"y":{"field":"y","type":"quantitative","axis":null},
"color":{"datum":"LAT (short)","type":"nominal","scale":{"domain":["GBM (long)","GBM (short)","LAT (long)","LAT (short)","GRB170817A"],"range":["#b4c6e2","#9cc39a","#000080","#8b0000","#e8641e"]},"legend":{"title":null}},
"shape":{"datum":"LAT (short)","type":"nominal","scale":{"domain":["GBM (long)","GBM (short)","LAT (long)","LAT (short)","GRB170817A"],"range":["circle","diamond","circle","diamond","M0,-1L0.225,-0.309L0.951,-0.309L0.363,0.118L0.588,0.809L0,0.382L-0.588,0.809L-0.363,0.118L-0.951,-0.309L-0.225,-0.309Z"]},"legend":{"title":null}},
"size":{"datum":"LAT (short)","type":"nominal","scale":{"type":"ordinal","domain":["GBM (long)","GBM (short)","LAT (long)","LAT (short)","GRB170817A"],"range":[42,52,70,82,330]},"legend":{"title":null}}}},
{"data":{"name":"grb"},
"mark":{"type":"point","filled":true,"opacity":1,"strokeWidth":0},
"encoding":{"x":{"field":"x","type":"quantitative","axis":null},"y":{"field":"y","type":"quantitative","axis":null},
"color":{"datum":"GRB170817A","type":"nominal","scale":{"domain":["GBM (long)","GBM (short)","LAT (long)","LAT (short)","GRB170817A"],"range":["#b4c6e2","#9cc39a","#000080","#8b0000","#e8641e"]},"legend":{"title":null}},
"shape":{"datum":"GRB170817A","type":"nominal","scale":{"domain":["GBM (long)","GBM (short)","LAT (long)","LAT (short)","GRB170817A"],"range":["circle","diamond","circle","diamond","M0,-1L0.225,-0.309L0.951,-0.309L0.363,0.118L0.588,0.809L0,0.382L-0.588,0.809L-0.363,0.118L-0.951,-0.309L-0.225,-0.309Z"]},"legend":{"title":null}},
"size":{"datum":"GRB170817A","type":"nominal","scale":{"type":"ordinal","domain":["GBM (long)","GBM (short)","LAT (long)","LAT (short)","GRB170817A"],"range":[42,52,70,82,330]},"legend":{"title":null}}}},
{"data":{"name":"ann"},
"mark":{"type":"text","font":"DejaVu Sans Condensed, Roboto Condensed, DejaVu Sans","fontSize":29,"align":"right","baseline":"alphabetic","color":"#404040"},
"encoding":{"x":{"field":"x","type":"quantitative","axis":null},"y":{"field":"y","type":"quantitative","axis":null},"text":{"field":"label"}}}
]
}
